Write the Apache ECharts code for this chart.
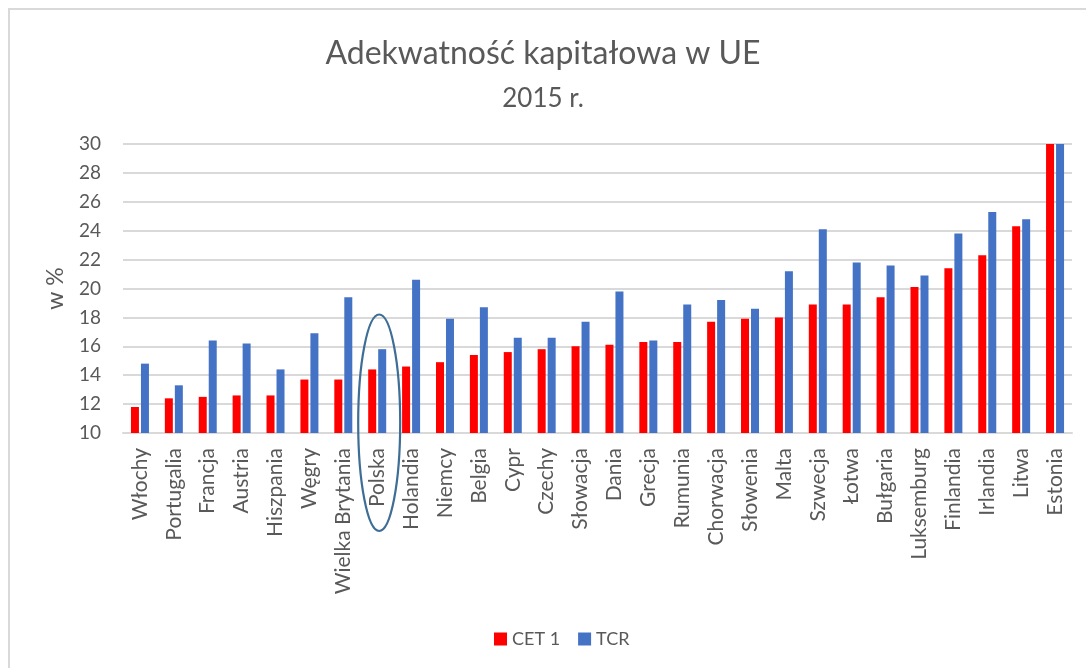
<!DOCTYPE html>
<html>
<head>
<meta charset="utf-8">
<script src="https://cdn.jsdelivr.net/npm/echarts@6/dist/echarts.min.js"></script>
<style>
html,body{margin:0;padding:0;background:#fff;}
#chart{width:1086px;height:668px;}
</style>
</head>
<body>
<div id="chart"></div>
<script>
const categories = ['Włochy','Portugalia','Francja','Austria','Hiszpania','Węgry','Wielka Brytania','Polska','Holandia','Niemcy','Belgia','Cypr','Czechy','Słowacja','Dania','Grecja','Rumunia','Chorwacja','Słowenia','Malta','Szwecja','Łotwa','Bułgaria','Luksemburg','Finlandia','Irlandia','Litwa','Estonia'];
const cet1 = [11.8,12.4,12.5,12.6,12.6,13.7,13.7,14.4,14.6,14.9,15.4,15.6,15.8,16.0,16.1,16.3,16.3,17.7,17.9,18.0,18.9,18.9,19.4,20.1,21.4,22.3,24.3,30];
const tcr = [14.8,13.3,16.4,16.2,14.4,16.9,19.4,15.8,20.6,17.9,18.7,16.6,16.6,17.7,19.8,16.4,18.9,19.2,18.6,21.2,24.1,21.8,21.6,20.9,23.8,25.3,24.8,30];
const yTicks = [10,12,14,16,18,20,22,24,26,28,30];
const highlighted = 'Polska';

const FONT = 'Lato, "Open Sans", sans-serif';
const TXT = '#595959';
const chart = echarts.init(document.getElementById('chart'), null, {renderer:'canvas'});
const option = {
  backgroundColor:'#fff',
  animation:false,
  textStyle:{fontFamily:FONT},
  title:[
    {text:'Adekwatność kapitałowa w UE', left:'center', top:33, textStyle:{fontFamily:FONT, fontSize:32, fontWeight:'normal', color:TXT}},
    {text:'2015 r.', left:'center', top:81, textStyle:{fontFamily:FONT, fontSize:26, fontWeight:'normal', color:TXT}}
  ],
  legend:{
    bottom:15, left:489, icon:'rect', itemWidth:13, itemHeight:13, itemGap:18,
    textStyle:{fontFamily:FONT, fontSize:18, color:TXT},
    data:['CET 1','TCR']
  },
  grid:{left:123, right:14, top:144, bottom:235},
  xAxis:{
    type:'category', data:categories,
    axisLine:{lineStyle:{color:'#d9d9d9', width:2}},
    axisTick:{show:false},
    axisLabel:{interval:0, rotate:90, margin:15, fontFamily:FONT, fontSize:21, color:TXT}
  },
  yAxis:{
    type:'value', min:yTicks[0], max:yTicks[yTicks.length-1], interval:2,
    name:'w %', nameLocation:'middle', nameGap:56, nameRotate:90,
    nameTextStyle:{fontFamily:FONT, fontSize:23, color:TXT},
    axisLine:{show:false}, axisTick:{show:false},
    axisLabel:{margin:22, fontFamily:FONT, fontSize:19, color:TXT},
    splitLine:{lineStyle:{color:'#d9d9d9', width:2}}
  },
  series:[
    {name:'CET 1', type:'bar', data:cet1, barWidth:8, barGap:'25%', itemStyle:{color:'#ff0000'}},
    {name:'TCR', type:'bar', data:tcr, barWidth:8, itemStyle:{color:'#4472c4'}}
  ]
};
chart.setOption(option);

const ellCx = chart.convertToPixel({xAxisIndex:0}, highlighted) + 2;
const ellTop = chart.convertToPixel({yAxisIndex:0}, 18.2);
const ellBottom = chart.convertToPixel({yAxisIndex:0}, 10) + 98;
chart.setOption({
  graphic:[
    {type:'rect', shape:{x:9, y:9, width:1100, height:700}, style:{fill:null, stroke:'#d9d9d9', lineWidth:2}, silent:true, z:-1},
    {type:'ellipse', shape:{cx:ellCx, cy:(ellTop+ellBottom)/2, rx:21, ry:(ellBottom-ellTop)/2}, style:{fill:null, stroke:'#3e6d96', lineWidth:2.2}, z:10}
  ]
});
</script>
</body>
</html>
